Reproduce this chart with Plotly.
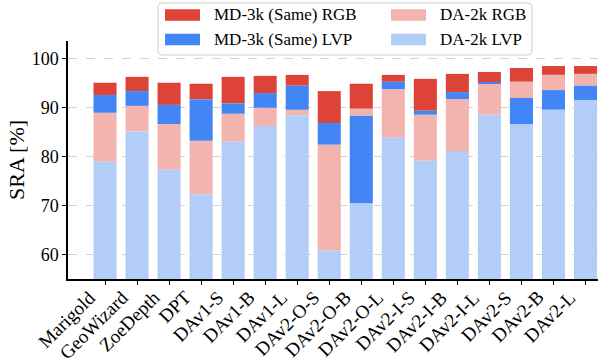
import plotly.graph_objects as go

categories = ["Marigold", "GeoWizard", "ZoeDepth", "DPT", "DAv1-S", "DAv1-B", "DAv1-L",
              "DAv2-O-S", "DAv2-O-B", "DAv2-O-L", "DAv2-I-S", "DAv2-I-B", "DAv2-I-L",
              "DAv2-S", "DAv2-B", "DAv2-L"]

md_rgb = [95.0, 96.2, 95.0, 94.8, 96.2, 96.4, 96.6, 93.3, 94.8, 96.6, 95.8, 96.8, 97.2, 98.0, 98.4, 98.4]
md_lvp = [92.5, 93.3, 90.5, 91.6, 90.8, 92.9, 94.4, 86.8, 88.3, 95.2, 89.3, 93.1, 95.0, 91.9, 93.5, 94.4]
da_rgb = [88.9, 90.3, 86.6, 83.2, 88.7, 89.9, 89.5, 82.4, 89.7, 93.7, 88.5, 91.7, 94.8, 95.2, 96.6, 96.8]
da_lvp = [78.9, 85.1, 77.3, 72.3, 83.0, 86.2, 88.4, 60.8, 70.4, 83.8, 79.1, 81.1, 88.5, 86.6, 89.5, 91.5]

y_ticks = [60, 70, 80, 90, 100]

series = [
    ("MD-3k (Same) RGB", md_rgb, "#DD4437"),
    ("DA-2k RGB", da_rgb, "#F3B3AE"),
    ("MD-3k (Same) LVP", md_lvp, "#4285F4"),
    ("DA-2k LVP", da_lvp, "#B3CDF9"),
]

all_vals = [s[1] for s in series]

fig = go.Figure()
for name, vals, color in series:
    bases = []
    for i, v in enumerate(vals):
        lower = [s[i] for s in all_vals if s[i] < v]
        bases.append(max(lower) if lower else 0)
    fig.add_trace(go.Bar(
        x=categories, y=[v - b for v, b in zip(vals, bases)], base=bases,
        name=name, marker=dict(color=color, line=dict(width=0)), width=0.72,
        showlegend=False,
    ))

font_family = "Liberation Serif"

W, H = 598, 362
ML, MR, MT, MB = 68, 0, 41, 83
PW, PH = W - ML - MR, H - MT - MB


def px(xp):
    return (xp - ML) / PW


def py(yp):
    return (H - MB - yp) / PH


# rotated category labels, right/top anchored under each tick
for c in categories:
    fig.add_annotation(
        x=c, xref="x", y=0, yref="paper", text=c, showarrow=False,
        textangle=-45, xanchor="right", yanchor="top", xshift=-3, yshift=-5,
        font=dict(size=19, family=font_family, color="black"),
    )

# legend box (rounded) drawn in paper coordinates
x0, x1, y0, y1, r = 158, 532, 3, 55, 4
path = (f"M {px(x0 + r)},{py(y0)} L {px(x1 - r)},{py(y0)} Q {px(x1)},{py(y0)} {px(x1)},{py(y0 + r)} "
        f"L {px(x1)},{py(y1 - r)} Q {px(x1)},{py(y1)} {px(x1 - r)},{py(y1)} "
        f"L {px(x0 + r)},{py(y1)} Q {px(x0)},{py(y1)} {px(x0)},{py(y1 - r)} "
        f"L {px(x0)},{py(y0 + r)} Q {px(x0)},{py(y0)} {px(x0 + r)},{py(y0)} Z")
fig.add_shape(type="path", path=path, xref="paper", yref="paper",
              fillcolor="white", line=dict(color="#d0d0d0", width=1), layer="above")

# legend entries: two columns, two rows
col_x = [165, 391]
row_y = [15, 39.5]
for k, (name, vals, color) in enumerate(series):
    col, row = k % 2, k // 2
    sx, sy = col_x[col], row_y[row]
    fig.add_shape(type="rect", xref="paper", yref="paper",
                  x0=px(sx), x1=px(sx + 35), y0=py(sy - 5.7), y1=py(sy + 5.7),
                  fillcolor=color, line=dict(width=0), layer="above")
    fig.add_annotation(
        x=px(sx + 47), y=py(sy), xref="paper", yref="paper", text=name,
        showarrow=False, xanchor="left", yanchor="middle",
        font=dict(size=17, family=font_family, color="black"),
    )

fig.update_layout(
    width=W, height=H,
    margin=dict(l=ML, r=MR, t=MT, b=MB, autoexpand=False),
    barmode="overlay",
    plot_bgcolor="white", paper_bgcolor="white",
    font=dict(family=font_family, size=18, color="black"),
    showlegend=False,
    xaxis=dict(
        type="category", range=[-1.156, 15.39], automargin=False,
        showticklabels=False,
        showline=True, linecolor="black", linewidth=1.5,
        ticks="outside", ticklen=4, tickcolor="black", showgrid=False,
    ),
    yaxis=dict(
        range=[55.05, 103.5], tickvals=y_ticks, automargin=False,
        showline=True, linecolor="black", linewidth=1.5,
        ticks="outside", ticklen=4, tickcolor="black",
        showgrid=True, gridcolor="#d3d3d3", griddash="dash", gridwidth=0.8,
        zeroline=False, tickfont=dict(size=18, family=font_family),
        title=dict(text="SRA [%]", font=dict(size=22, family=font_family), standoff=1),
    ),
)

fig.write_html("out.html", config={"displayModeBar": False},
               post_script="document.body.style.margin='0';")
